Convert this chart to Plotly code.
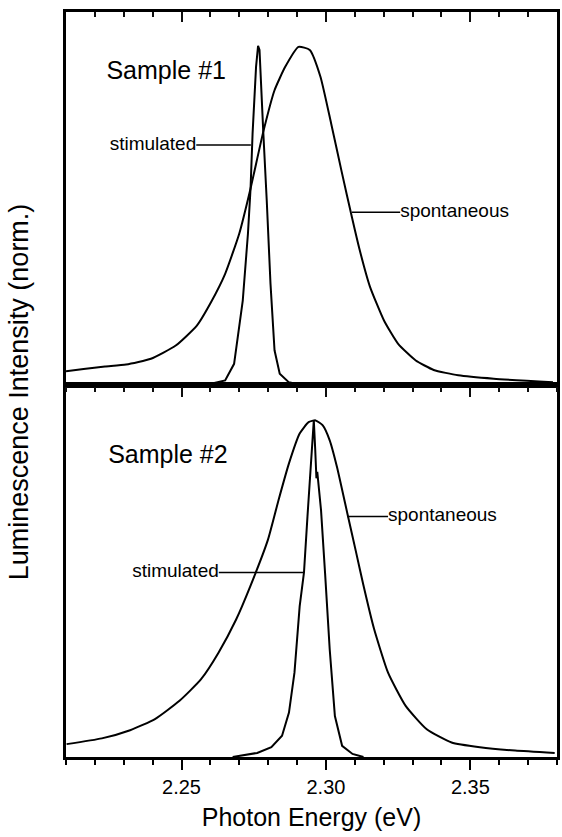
import plotly.graph_objects as go

# ---------------- data ----------------
# Sample #1 (top panel)
s1_spont_E = [2.2100, 2.2161, 2.2235, 2.2308, 2.2394, 2.2480, 2.2553, 2.2602, 2.2651,
              2.2700, 2.2739, 2.2783, 2.2822, 2.2859, 2.2905, 2.2944, 2.2981, 2.3018,
              2.3054, 2.3091, 2.3116, 2.3152, 2.3201, 2.3250, 2.3311, 2.3373, 2.3458,
              2.3581, 2.3786]
s1_spont_I = [0.039, 0.046, 0.053, 0.059, 0.076, 0.115, 0.174, 0.243, 0.327,
              0.446, 0.579, 0.746, 0.869, 0.938, 0.997, 0.988, 0.909, 0.771,
              0.630, 0.490, 0.400, 0.290, 0.189, 0.120, 0.071, 0.043, 0.027,
              0.017, 0.007]
s1_stim_E = [2.2550, 2.2602, 2.2651, 2.2682, 2.2712, 2.2730, 2.2739, 2.2746, 2.2758,
             2.2765, 2.2770, 2.2775, 2.2783, 2.2795, 2.2808, 2.2822, 2.2840, 2.2871,
             2.2908, 2.2960]
s1_stim_I = [0.000, 0.002, 0.012, 0.061, 0.248, 0.446, 0.579, 0.741, 0.938,
             1.000, 0.988, 0.879, 0.746, 0.544, 0.298, 0.101, 0.032, 0.007,
             0.000, 0.000]

# Sample #2 (bottom panel)
s2_spont_E = [2.2102, 2.2224, 2.2322, 2.2408, 2.2493, 2.2567, 2.2628, 2.2689, 2.2738,
              2.2799, 2.2836, 2.2872, 2.2909, 2.2940, 2.2964, 2.2989, 2.3013,
              2.3038, 2.3074, 2.3105, 2.3129, 2.3166, 2.3215, 2.3276, 2.3349, 2.3435,
              2.3533, 2.3655, 2.3792]
s2_spont_I = [0.038, 0.055, 0.079, 0.112, 0.166, 0.229, 0.308, 0.406, 0.504,
              0.641, 0.759, 0.867, 0.955, 0.989, 0.994, 0.979, 0.935,
              0.857, 0.720, 0.602, 0.510, 0.380, 0.249, 0.151, 0.082, 0.043,
              0.029, 0.019, 0.012]
s2_stim_E = [2.2677, 2.2762, 2.2811, 2.2848, 2.2872, 2.2891, 2.2909, 2.2924, 2.2936,
             2.2948, 2.2958, 2.2963, 2.2967, 2.2970, 2.2983, 2.2997, 2.3013, 2.3031,
             2.3056, 2.3092, 2.3130]
s2_stim_I = [0.000, 0.012, 0.029, 0.063, 0.131, 0.249, 0.445, 0.545, 0.710,
             0.877, 0.994, 0.906, 0.823, 0.842, 0.729, 0.543, 0.318, 0.121,
             0.033, 0.009, 0.000]

x_range = [2.21, 2.38]
y_range = [0.0, 1.1]
tick_vals = [2.25, 2.30, 2.35]
tick_text = ["2.25", "2.30", "2.35"]
minor_step = 0.01

# curve labels: text, x-axis, y-axis, leader start, leader end, height, side of text
curve_labels = [
    ("stimulated", "x2", "y2", 2.2551, 2.2740, 0.707, "left"),
    ("spontaneous", "x2", "y2", 2.3090, 2.3257, 0.509, "right"),
    ("stimulated", "x", "y", 2.2629, 2.2923, 0.545, "left"),
    ("spontaneous", "x", "y", 2.3074, 2.3215, 0.710, "right"),
]
panel_labels = [("Sample #1", "x2", "y2", 2.2240, 0.920),
                ("Sample #2", "x", "y", 2.2246, 0.888)]

FONT = "Liberation Sans, Arial, sans-serif"
BLACK = "#000000"
TICK_DARK = "#0d0d0d"

fig = go.Figure()

line_style = dict(color=BLACK, width=2)
fig.add_trace(go.Scatter(x=s1_spont_E, y=s1_spont_I, mode="lines", xaxis="x2", yaxis="y2",
                         line=dict(shape="spline", smoothing=0.5, **line_style), showlegend=False))
fig.add_trace(go.Scatter(x=s1_stim_E, y=s1_stim_I, mode="lines", xaxis="x2", yaxis="y2",
                         line=dict(shape="linear", **line_style), showlegend=False))
fig.add_trace(go.Scatter(x=s2_spont_E, y=s2_spont_I, mode="lines", xaxis="x", yaxis="y",
                         line=dict(shape="spline", smoothing=0.5, **line_style), showlegend=False))
fig.add_trace(go.Scatter(x=s2_stim_E, y=s2_stim_I, mode="lines", xaxis="x", yaxis="y",
                         line=dict(shape="linear", **line_style), showlegend=False))

# curve labels with leader lines (as traces)
for text, xa_, ya_, x0, x1, yv, side in curve_labels:
    fig.add_trace(go.Scatter(x=[x0, x1], y=[yv, yv], mode="lines", xaxis=xa_, yaxis=ya_,
                             line=dict(color=BLACK, width=1.5), showlegend=False,
                             hoverinfo="skip"))
    fig.add_trace(go.Scatter(x=[x0 if side == "left" else x1], y=[yv], mode="text",
                             text=[text], textposition="middle " + side,
                             textfont=dict(size=19, family=FONT, color=BLACK),
                             xaxis=xa_, yaxis=ya_, showlegend=False, hoverinfo="skip"))
for text, xa_, ya_, xv, yv in panel_labels:
    fig.add_trace(go.Scatter(x=[xv], y=[yv], mode="text", text=[text],
                             textposition="middle right",
                             textfont=dict(size=25, family=FONT, color=BLACK),
                             xaxis=xa_, yaxis=ya_, showlegend=False, hoverinfo="skip"))

# invisible traces so the extra tick-only axes are drawn
for ax in ["x3", "x4", "x5"]:
    fig.add_trace(go.Scatter(x=[x_range[0]], y=[y_range[0]], mode="markers", xaxis=ax, yaxis="y2",
                             marker=dict(opacity=0), showlegend=False, hoverinfo="skip"))

base_x = dict(range=x_range, showgrid=False, zeroline=False, showline=True,
              linecolor=BLACK, linewidth=2.5, tickwidth=2)

fig.update_layout(
    width=562, height=837,
    margin=dict(l=66, r=2, t=12, b=80),
    plot_bgcolor="white", paper_bgcolor="white",
    font=dict(family=FONT, color=BLACK),
    # bottom panel x axis (labels + major + minor ticks)
    xaxis=dict(base_x, domain=[0, 1], anchor="y", mirror=True, tickcolor=BLACK,
               tickmode="array", tickvals=tick_vals, ticktext=tick_text,
               ticks="outside", ticklen=10,
               tickfont=dict(size=20, family=FONT, color=BLACK),
               minor=dict(tickmode="linear", tick0=2.20, dtick=minor_step, ticks="outside",
                          ticklen=5, tickwidth=2, tickcolor=BLACK),
               title=dict(text="Photon Energy (eV)",
                          font=dict(size=25, family=FONT, color=BLACK), standoff=12)),
    # top panel: bottom edge minor ticks (outside)
    xaxis2=dict(base_x, domain=[0, 1], anchor="y2", ticks="outside", ticklen=5,
                tickcolor=TICK_DARK, tickmode="linear", tick0=2.2, dtick=minor_step,
                showticklabels=False),
    # top panel: top edge major ticks (inside)
    xaxis3=dict(base_x, overlaying="x2", anchor="y2", side="top", ticks="inside", ticklen=10,
                tickcolor=TICK_DARK, tickmode="array", tickvals=tick_vals,
                showticklabels=False),
    # top panel: bottom edge major ticks (outside)
    xaxis4=dict(base_x, overlaying="x2", anchor="y2", ticks="outside", ticklen=10,
                tickcolor=TICK_DARK, tickmode="array", tickvals=tick_vals,
                showticklabels=False),
    # top panel: top edge minor ticks (inside)
    xaxis5=dict(base_x, overlaying="x2", anchor="y2", side="top", ticks="inside", ticklen=5,
                tickcolor=TICK_DARK, tickmode="linear", tick0=2.2, dtick=minor_step,
                showticklabels=False),
    yaxis=dict(range=y_range, domain=[0, 0.5], anchor="x", showgrid=False, zeroline=False,
               showline=True, linecolor=BLACK, linewidth=2.5, mirror=True,
               showticklabels=False, ticks=""),
    yaxis2=dict(range=y_range, domain=[0.5, 1], anchor="x2", showgrid=False, zeroline=False,
                showline=True, linecolor=BLACK, linewidth=2.5, mirror=True,
                showticklabels=False, ticks=""),
)

# y-axis title spanning both panels
fig.add_annotation(text="Luminescence Intensity (norm.)", xref="paper", yref="paper",
                   x=-0.095, y=0.49, textangle=-90, showarrow=False,
                   xanchor="center", yanchor="middle",
                   font=dict(size=27, family=FONT, color=BLACK))

fig.write_html("out.html")
